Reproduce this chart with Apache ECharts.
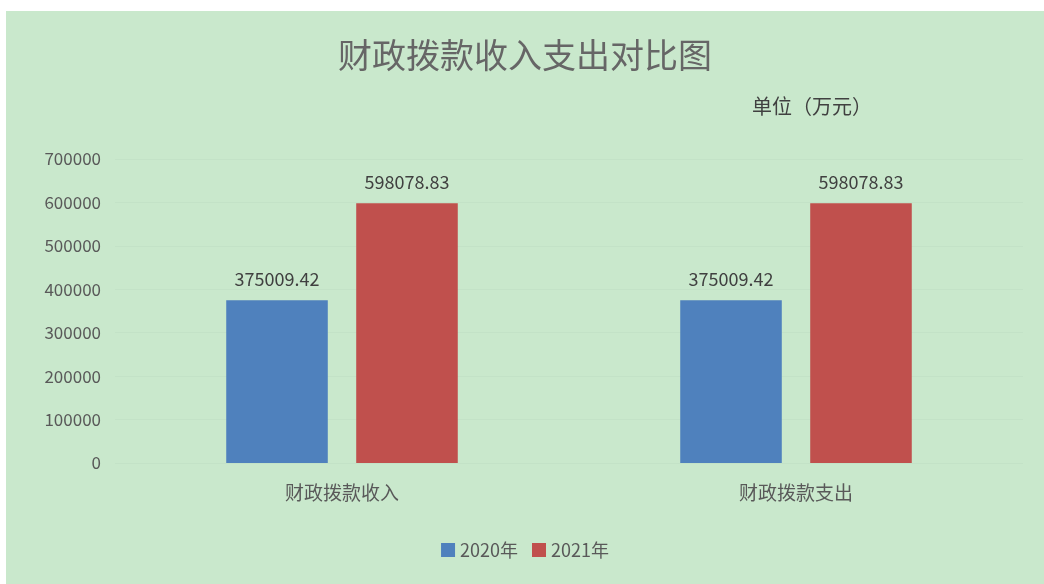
<!DOCTYPE html>
<html>
<head>
<meta charset="utf-8">
<script src="https://cdn.jsdelivr.net/npm/echarts@6/dist/echarts.min.js"></script>
<style>
  html, body { margin: 0; padding: 0; background: #ffffff; }
  #chart { position: absolute; left: 6px; top: 11px; width: 1038px; height: 573px; background: #c9e8cc; }
</style>
</head>
<body>
<div id="chart"></div>
<script>
const categories = ['财政拨款收入', '财政拨款支出']
const values2020 = [375009.42, 375009.42]
const values2021 = [598078.83, 598078.83]
const yTicks = [0, 100000, 200000, 300000, 400000, 500000, 600000, 700000]

const font = '"Noto Sans CJK SC", "Microsoft YaHei", sans-serif'
const textColor = '#595959'

const chart = echarts.init(document.getElementById('chart'))

const labelStyle = {
    show: true,
    position: 'top',
    distance: 12,
    color: '#404040',
    fontSize: 18,
    fontFamily: font,
    formatter: p => p.value.toFixed(2)
}

chart.setOption({
    backgroundColor: '#c9e8cc',
    title: [
        {
            text: '财政拨款收入支出对比图',
            left: 'center',
            top: 22,
            textStyle: { color: '#666666', fontSize: 34, fontWeight: 'normal', fontFamily: font }
        },
        {
            text: '单位（万元）',
            left: 741,
            top: 80,
            textStyle: { color: '#404040', fontSize: 20, fontWeight: 'normal', fontFamily: font }
        }
    ],
    legend: {
        bottom: 20,
        left: 'center',
        itemWidth: 14,
        itemHeight: 14,
        itemGap: 14,
        icon: 'rect',
        textStyle: { color: textColor, fontSize: 18, fontFamily: font }
    },
    grid: { left: 109, right: 21, top: 148, bottom: 121 },
    xAxis: {
        type: 'category',
        data: categories,
        axisLine: { show: false },
        axisTick: { show: false },
        axisLabel: { color: textColor, fontSize: 19, fontFamily: font, margin: 20 }
    },
    yAxis: {
        type: 'value',
        min: yTicks[0],
        max: yTicks[yTicks.length - 1],
        interval: 100000,
        axisLine: { show: false },
        axisTick: { show: false },
        axisLabel: { color: textColor, fontSize: 17, fontFamily: font, margin: 14, formatter: v => String(v) },
        splitLine: { lineStyle: { color: '#c3e2c7', width: 1 } }
    },
    series: [
        {
            name: '2020年',
            type: 'bar',
            data: values2020,
            itemStyle: { color: '#4f81bd' },
            barGap: '28%',
            barCategoryGap: '49%',
            label: labelStyle
        },
        {
            name: '2021年',
            type: 'bar',
            data: values2021,
            itemStyle: { color: '#c0504d' },
            label: labelStyle
        }
    ]
})
</script>
</body>
</html>
